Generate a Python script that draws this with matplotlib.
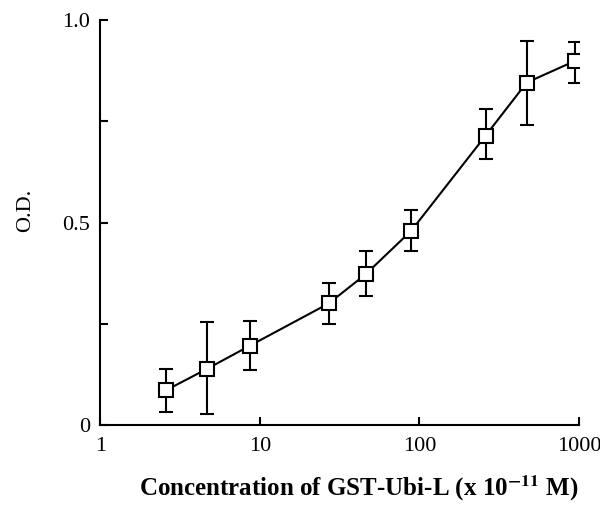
import numpy as np
import matplotlib
matplotlib.use("Agg")
import matplotlib.pyplot as plt

plt.rcParams['font.family'] = ['Liberation Serif', 'DejaVu Serif']
plt.rcParams['mathtext.fontset'] = 'stix'

# concentration (x 10^-11 M) and O.D.
conc = [2.6, 4.7, 8.7, 27, 46, 89, 260, 470, 950]
od = [0.086, 0.139, 0.196, 0.30, 0.372, 0.48, 0.715, 0.846, 0.90]
err_hi = [0.139, 0.254, 0.257, 0.35, 0.43, 0.53, 0.78, 0.949, 0.947]
err_lo = [0.031, 0.026, 0.136, 0.25, 0.319, 0.43, 0.657, 0.74, 0.845]

yticks = [0, 0.25, 0.5, 0.75, 1.0]
ytick_labels = ["0", "", "0.5", "", "1.0"]
xticks = [1, 10, 100, 1000]
xtick_labels = ["1", "10", "100", "1000"]

od = np.array(od)
yerr = [od - np.array(err_lo), np.array(err_hi) - od]

fig = plt.figure(figsize=(6, 5.07), dpi=100)
ax = fig.add_axes([0.167, 0.162, 0.798, 0.798])

ax.errorbar(conc, od, yerr=yerr, fmt='-', color='black', lw=1.5,
            elinewidth=1.5, capsize=5, capthick=1.5,
            marker='s', markersize=10, mfc='white', mec='black', mew=1.5)

ax.set_xscale('log')
ax.set_xlim(1, 1000)
ax.set_ylim(0, 1.0)
ax.set_xticks(xticks)
ax.set_xticklabels(xtick_labels)
ax.xaxis.set_minor_locator(matplotlib.ticker.NullLocator())
ax.set_yticks(yticks)
ax.set_yticklabels(ytick_labels)

for s in ['top', 'right']:
    ax.spines[s].set_visible(False)
for s in ['left', 'bottom']:
    ax.spines[s].set_linewidth(1.5)
ax.tick_params(direction='in', length=6, width=1.5, labelsize=16)
ax.tick_params(axis='x', pad=9)
ax.tick_params(axis='y', pad=7)

ax.set_ylabel("O.D.", fontsize=16, labelpad=20)
ax.yaxis.label.set_y(0.53)
ax.set_xlabel("Concentration of GST-Ubi-L (x 10$^{\\mathbf{-11}}$ M)",
              fontsize=18, fontweight='bold', labelpad=12)
ax.xaxis.label.set_x(0.54)

fig.savefig("out.png", dpi=100)
